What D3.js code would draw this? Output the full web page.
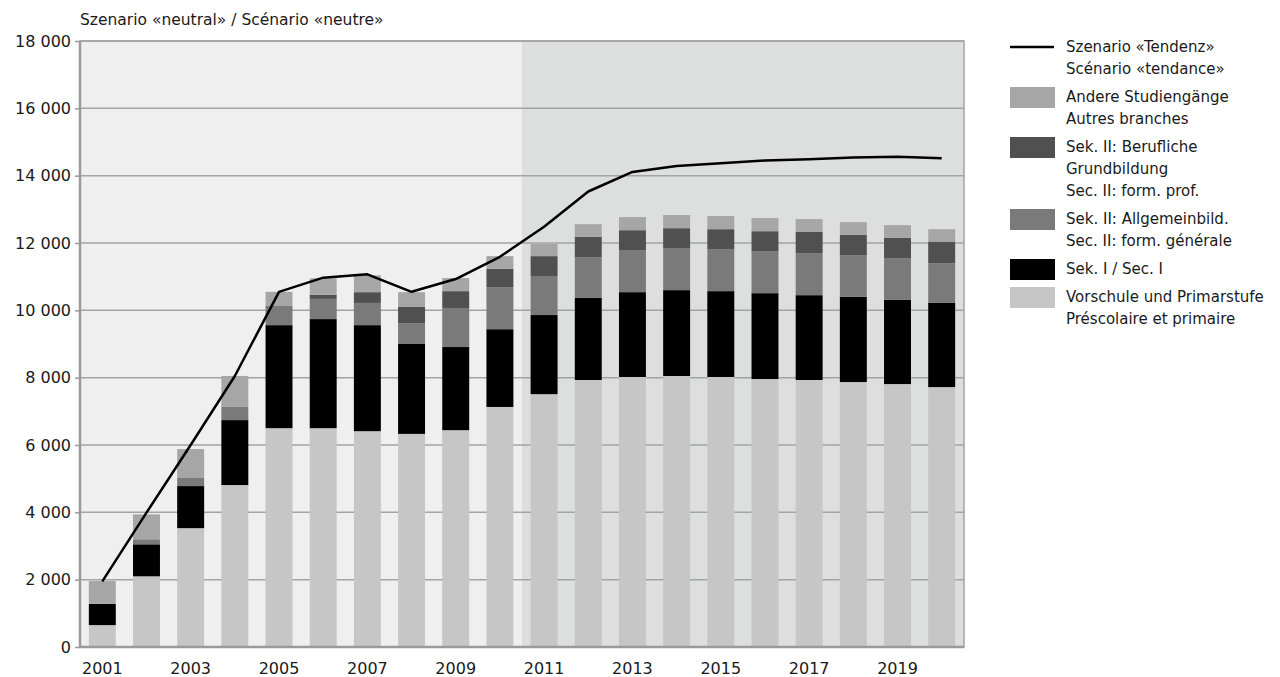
<!DOCTYPE html>
<html>
<head>
<meta charset="utf-8">
<script src="https://cdnjs.cloudflare.com/ajax/libs/d3/7.8.5/d3.min.js"></script>
<style>
  body { margin: 0; background: #fff; }
  svg { font-family: "DejaVu Sans", sans-serif; font-size: 15px; fill: #1a1a1a; }
</style>
</head>
<body>
<svg id="chart" width="1280" height="677"></svg>
<script>
(function() {
  'use strict';

  // data
  var years = ['2001', '2002', '2003', '2004', '2005', '2006', '2007', '2008', '2009', '2010',
    '2011', '2012', '2013', '2014', '2015', '2016', '2017', '2018', '2019', '2020'];
  var vorschule = [650, 2100, 3530, 4810, 6500, 6500, 6410, 6330, 6440, 7130,
    7510, 7930, 8020, 8050, 8020, 7960, 7930, 7870, 7810, 7720];
  var sek1 = [630, 950, 1250, 1930, 3060, 3240, 3150, 2670, 2470, 2310,
    2350, 2440, 2520, 2550, 2550, 2550, 2520, 2530, 2500, 2500];
  var allgemein = [0, 150, 240, 390, 570, 600, 660, 620, 1160, 1250,
    1160, 1210, 1250, 1250, 1250, 1250, 1250, 1240, 1240, 1180];
  var beruflich = [0, 0, 0, 0, 0, 120, 320, 480, 500, 540,
    590, 600, 590, 590, 590, 590, 630, 600, 600, 630];
  var andere = [680, 740, 860, 920, 420, 490, 500, 440, 390, 380,
    360, 380, 390, 390, 390, 390, 380, 380, 380, 380];
  var tendenz = [1950, 3990, 6000, 8050, 10550, 10970, 11070, 10550, 10930, 11590,
    12480, 13530, 14110, 14290, 14370, 14450, 14490, 14540, 14560, 14520];
  var yTicks = [0, 2000, 4000, 6000, 8000, 10000, 12000, 14000, 16000, 18000];
  var xLabels = ['2001', '2003', '2005', '2007', '2009', '2011', '2013', '2015', '2017', '2019'];
  var scenarioStart = '2011';

  var seriesKeys = ['vorschule', 'sek1', 'allgemein', 'beruflich', 'andere'];
  var seriesColors = {
    vorschule: '#c5c6c5',
    sek1: '#000000',
    allgemein: '#7a7a7a',
    beruflich: '#505050',
    andere: '#a6a6a6'
  };

  var legendItems = [
    { type: 'line', lines: ['Szenario «Tendenz»', 'Scénario «tendance»'] },
    { key: 'andere', lines: ['Andere Studiengänge', 'Autres branches'] },
    { key: 'beruflich', lines: ['Sek. II: Berufliche', 'Grundbildung', 'Sec. II: form. prof.'] },
    { key: 'allgemein', lines: ['Sek. II: Allgemeinbild.', 'Sec. II: form. générale'] },
    { key: 'sek1', lines: ['Sek. I / Sec. I'] },
    { key: 'vorschule', lines: ['Vorschule und Primarstufe', 'Préscolaire et primaire'] }
  ];

  var table = years.map(function(y, i) {
    return {
      year: y,
      vorschule: vorschule[i],
      sek1: sek1[i],
      allgemein: allgemein[i],
      beruflich: beruflich[i],
      andere: andere[i]
    };
  });

  var margin = { left: 80, right: 316, top: 41, bottom: 30 };
  var width = 1280, height = 677;
  var innerW = width - margin.left - margin.right;
  var innerH = height - margin.top - margin.bottom;

  var svg = d3.select('#chart');

  var x = d3.scaleBand().domain(years).range([0, innerW]).paddingInner(0.39).paddingOuter(0.2);
  var y = d3.scaleLinear().domain([0, 18000]).range([innerH, 0]);

  var g = svg.append('g').attr('transform', 'translate(' + margin.left + ',' + margin.top + ')');

  // backgrounds: observed years vs scenario years
  var step = x.step();
  var splitX = x(scenarioStart) - x.paddingInner() * step / 2;
  g.append('rect').attr('x', 0).attr('y', 0).attr('width', splitX).attr('height', innerH).attr('fill', '#efefef');
  g.append('rect').attr('x', splitX).attr('y', 0).attr('width', innerW - splitX).attr('height', innerH).attr('fill', '#dddfde');

  // grid
  g.append('g').selectAll('line').data(yTicks).enter().append('line')
    .attr('x1', 0).attr('x2', innerW)
    .attr('y1', function(d) { return y(d); }).attr('y2', function(d) { return y(d); })
    .attr('stroke', '#a3a3a3').attr('stroke-width', 1.5);

  // bars
  var stack = d3.stack().keys(seriesKeys);
  var layers = stack(table);
  g.append('g').selectAll('g').data(layers).enter().append('g')
    .attr('fill', function(d) { return seriesColors[d.key]; })
    .selectAll('rect').data(function(d) { return d; }).enter().append('rect')
    .attr('x', function(d) { return x(d.data.year); })
    .attr('width', x.bandwidth())
    .attr('y', function(d) { return y(d[1]); })
    .attr('height', function(d) { return y(d[0]) - y(d[1]); });

  // frame
  g.append('rect').attr('x', 0).attr('y', 0).attr('width', innerW).attr('height', innerH)
    .attr('fill', 'none').attr('stroke', '#a3a3a3').attr('stroke-width', 1.5);
  g.append('line').attr('x1', 0).attr('x2', 0).attr('y1', 0).attr('y2', innerH)
    .attr('stroke', '#9a9a9a').attr('stroke-width', 2.5);
  g.append('line').attr('x1', 0).attr('x2', innerW).attr('y1', innerH).attr('y2', innerH)
    .attr('stroke', '#9a9a9a').attr('stroke-width', 2.5);

  // line
  var line = d3.line()
    .x(function(d, i) { return x(years[i]) + x.bandwidth() / 2; })
    .y(function(d) { return y(d); });
  g.append('path').datum(tendenz).attr('d', line)
    .attr('fill', 'none').attr('stroke', '#000').attr('stroke-width', 2.5)
    .attr('stroke-linejoin', 'round');

  // y axis
  var yAxis = d3.axisLeft(y).tickValues(yTicks).tickSize(5).tickPadding(4)
    .tickFormat(function(d) { return d3.format(',')(d).replace(/,/g, ' '); });
  var ya = g.append('g').call(yAxis);
  ya.select('.domain').remove();
  ya.selectAll('.tick line').attr('stroke', '#9a9a9a').attr('stroke-width', 1.5);
  ya.selectAll('.tick text').attr('font-family', '"DejaVu Sans", sans-serif').attr('font-size', 16).attr('fill', '#1a1a1a');

  // x axis
  var xAxis = d3.axisBottom(x).tickValues(xLabels).tickSize(0).tickPadding(16);
  var xa = g.append('g').attr('transform', 'translate(0,' + innerH + ')').call(xAxis);
  xa.select('.domain').remove();
  xa.selectAll('.tick text').attr('font-family', '"DejaVu Sans", sans-serif').attr('font-size', 16).attr('fill', '#1a1a1a');

  // title
  svg.append('text').attr('x', 80).attr('y', 25).attr('font-size', 15.5)
    .text('Szenario «neutral» / Scénario «neutre»');

  // legend
  var lg = svg.append('g').attr('transform', 'translate(1010,0)');
  var lineH = 22;
  var cy = 47;
  legendItems.forEach(function(item) {
    if (item.type === 'line') {
      lg.append('line').attr('x1', 0).attr('x2', 44).attr('y1', cy).attr('y2', cy)
        .attr('stroke', '#000').attr('stroke-width', 2.5);
    } else {
      lg.append('rect').attr('x', 0).attr('y', cy - 10).attr('width', 45).attr('height', 21)
        .attr('fill', seriesColors[item.key]);
    }
    item.lines.forEach(function(t, j) {
      lg.append('text').attr('x', 56).attr('y', cy + j * lineH).attr('dy', '0.35em').text(t);
    });
    cy += item.lines.length * lineH + 6;
  });
})();
</script>
</body>
</html>
